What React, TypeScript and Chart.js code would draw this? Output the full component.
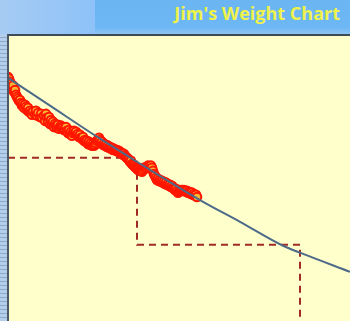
import React, { useEffect, useRef } from "react";
import { Chart, registerables } from "chart.js";

Chart.register(...registerables);

const TITLE = "Jim's Weight Chart";

// Daily weigh-ins (day index, weight in lbs)
const days = [
  0, 1, 2, 3, 4, 5, 6, 7, 8, 9, 10, 11, 12, 13, 14, 15, 16, 17, 18, 19,
  20, 21, 22, 23, 24, 25,
  27, 28, 29, 30,
  32, 33, 34,
  36, 37, 38, 39, 40, 41, 42, 43, 44, 45, 46, 47, 48, 49, 50, 51, 52, 53, 54, 55,
  56, 57, 58, 59, 60, 61, 62, 63, 64, 65, 66, 67, 68, 69, 70, 71, 72, 73, 74, 75,
  76, 77, 78, 79, 80, 81, 82, 83, 84, 85, 86, 87, 88, 89, 90, 91, 92, 93, 94, 95,
  96, 97, 98, 99, 100, 101, 102, 103, 104, 105, 106, 107, 108, 109, 110, 111, 112, 113, 114, 115,
  116, 117, 118, 119, 120, 121, 122, 123, 124, 125, 126, 127, 128, 129, 130, 131, 132, 133, 134, 135,
  136, 137, 138, 139, 140, 141, 142, 143, 144, 145, 146, 147, 148, 149, 150, 151, 152, 153, 154, 155,
  156, 157, 158, 159, 160, 161, 162, 163, 164, 165, 166, 167, 168, 169, 170, 171, 172, 173, 174, 175,
  176, 177, 178, 179, 180, 181, 182, 183, 184, 185, 186, 187, 188, 189,
];
const weights = [
  238.6, 238.2, 237.5, 237.0, 236.1, 236.6, 235.2, 235.6, 234.5, 234.0, 233.6, 233.1, 233.3, 232.6, 232.0, 232.4, 231.5, 232.2, 231.7, 231.0,
  231.5, 230.6, 230.8, 230.3, 229.9, 230.6,
  230.1, 230.8, 229.7, 230.3,
  229.4, 230.1, 229.2,
  229.7, 228.5, 230.1, 229.2, 228.3, 229.4, 227.8, 228.7, 227.6, 228.3, 227.1, 227.8, 227.4, 226.9, 227.6, 226.7, 227.1, 227.4, 227.1, 226.9, 226.4,
  226.4, 227.1, 226.2, 225.7, 226.4, 225.5, 226.0, 225.1, 225.7, 226.2, 225.7, 226.0, 225.3, 225.5, 224.8, 225.3, 224.6, 224.4, 224.8, 223.9,
  224.1, 223.7, 223.9, 223.2, 223.7, 223.0, 223.4, 222.8, 223.2, 222.8, 223.0, 223.4, 223.9, 224.1, 224.6, 224.1, 223.4, 223.7, 223.0, 223.2,
  222.8, 223.0, 222.5, 222.8, 222.3, 222.5, 222.1, 222.3, 221.8, 222.1, 221.8, 221.6, 221.8, 221.4, 221.6, 221.4, 221.1, 221.1, 220.7, 220.9,
  220.5, 220.2, 220.0, 219.8, 219.5, 219.1, 219.3, 218.6, 218.4, 218.2, 217.9, 217.7, 217.5, 217.2, 217.5, 217.2, 217.0, 216.8, 217.2, 217.7,
  217.5, 217.9, 217.7, 218.2, 217.9, 217.7, 218.2, 217.7, 217.0, 216.3, 215.9, 215.4, 214.9, 215.2, 214.7, 214.9, 214.5, 214.7, 214.3, 214.5,
  214.0, 214.3, 213.8, 214.0, 213.6, 213.8, 213.3, 213.6, 213.1, 212.9, 212.6, 212.9, 212.4, 212.0, 212.2, 212.4, 212.6, 212.6, 212.4, 212.6,
  212.4, 212.2, 212.4, 212.0, 212.2, 212.0, 211.7, 212.0, 211.5, 211.7, 211.3, 211.5, 211.0,
];

// Trend curve
const trendDays = [0, 42, 92, 129, 192, 232, 275, 292, 342];
const trendWeights = [238.4, 232.0, 224.4, 219.1, 210.3, 205.3, 199.8, 198.2, 193.8];

// Goal steps (dashed)
const goalDays = [0, 129, 129, 292, 292];
const goalWeights = [220, 220, 200, 200, 178];

const X_MIN = 1;
const X_MAX = 342;
const Y_MIN = 182.5;
const Y_MAX = 248;

export default function App() {
  const ref = useRef<HTMLCanvasElement | null>(null);

  useEffect(() => {
    if (!ref.current) return;
    const n = Math.min(days.length, weights.length);
    const pts = [] as { x: number; y: number }[];
    for (let i = 0; i < n; i++) pts.push({ x: days[i], y: weights[i] });
    const chart = new Chart(ref.current, {
      type: "scatter",
      data: {
        datasets: [
          {
            label: "Trend",
            data: trendDays.map((d, i) => ({ x: d, y: trendWeights[i] })),
            showLine: true,
            borderColor: "#4d6a88",
            borderWidth: 2,
            pointRadius: 0,
            cubicInterpolationMode: "monotone",
            order: 0,
            clip: false,
          } as any,
          {
            label: "Weight",
            data: pts,
            showLine: false,
            pointRadius: 4.3,
            pointBackgroundColor: "#f7b733",
            pointBorderColor: "#ff1500",
            pointBorderWidth: 2,
            order: 1,
            clip: false,
          } as any,
          {
            label: "Goal",
            data: goalDays.map((d, i) => ({ x: d, y: goalWeights[i] })),
            showLine: true,
            borderColor: "#a02a26",
            borderWidth: 2,
            borderDash: [7, 5],
            pointRadius: 0,
            tension: 0,
            order: 2,
            clip: false,
          } as any,
        ],
      },
      options: {
        animation: false,
        responsive: true,
        maintainAspectRatio: false,
        layout: { padding: 0, autoPadding: false },
        plugins: {
          legend: { display: false },
          tooltip: { enabled: false },
          title: { display: false },
        },
        scales: {
          x: { type: "linear", min: X_MIN, max: X_MAX, display: false },
          y: { type: "linear", min: Y_MIN, max: Y_MAX, display: false },
        },
      },
    });
    return () => chart.destroy();
  }, []);

  return (
    <div
      style={{
        position: "fixed",
        left: 0,
        top: 0,
        width: 350,
        height: 321,
        overflow: "hidden",
        background: "#a9c9ee",
      }}
    >
      {/* header */}
      <div
        style={{
          position: "absolute",
          left: 0,
          top: 0,
          width: 95,
          height: 34,
          background: "linear-gradient(90deg, #a6cbf3 0%, #8ec2f8 100%)",
        }}
      />
      <div
        style={{
          position: "absolute",
          left: 95,
          top: 0,
          width: 255,
          height: 34,
          background: "linear-gradient(180deg, #6cb5f3 0%, #6db7f4 80%, #8cc4f2 100%)",
        }}
      />
      <div
        style={{
          position: "absolute",
          right: 10,
          top: 1,
          fontFamily: "'Open Sans', Lato, sans-serif",
          fontWeight: 700,
          fontSize: 18,
          color: "#eef24a",
          whiteSpace: "nowrap",
          lineHeight: "24px",
        }}
      >
        {TITLE}
      </div>
      {/* left strip */}
      <div
        style={{
          position: "absolute",
          left: 0,
          top: 34,
          width: 7,
          height: 287,
          background:
            "repeating-linear-gradient(180deg, #b4cfee 0px, #b4cfee 3px, #8fa9c8 3px, #8fa9c8 4px)",
        }}
      />
      {/* plot frame */}
      <div
        style={{
          position: "absolute",
          left: 7,
          top: 34,
          width: 343,
          height: 287,
          boxSizing: "border-box",
          borderTop: "2px solid #3e4c5a",
          borderLeft: "2px solid #4a5866",
          background: "#ffffcc",
        }}
      />
      <div
        style={{
          position: "absolute",
          left: 9,
          top: 36,
          width: 341,
          height: 285,
        }}
      >
        <canvas ref={ref} />
      </div>
    </div>
  );
}
